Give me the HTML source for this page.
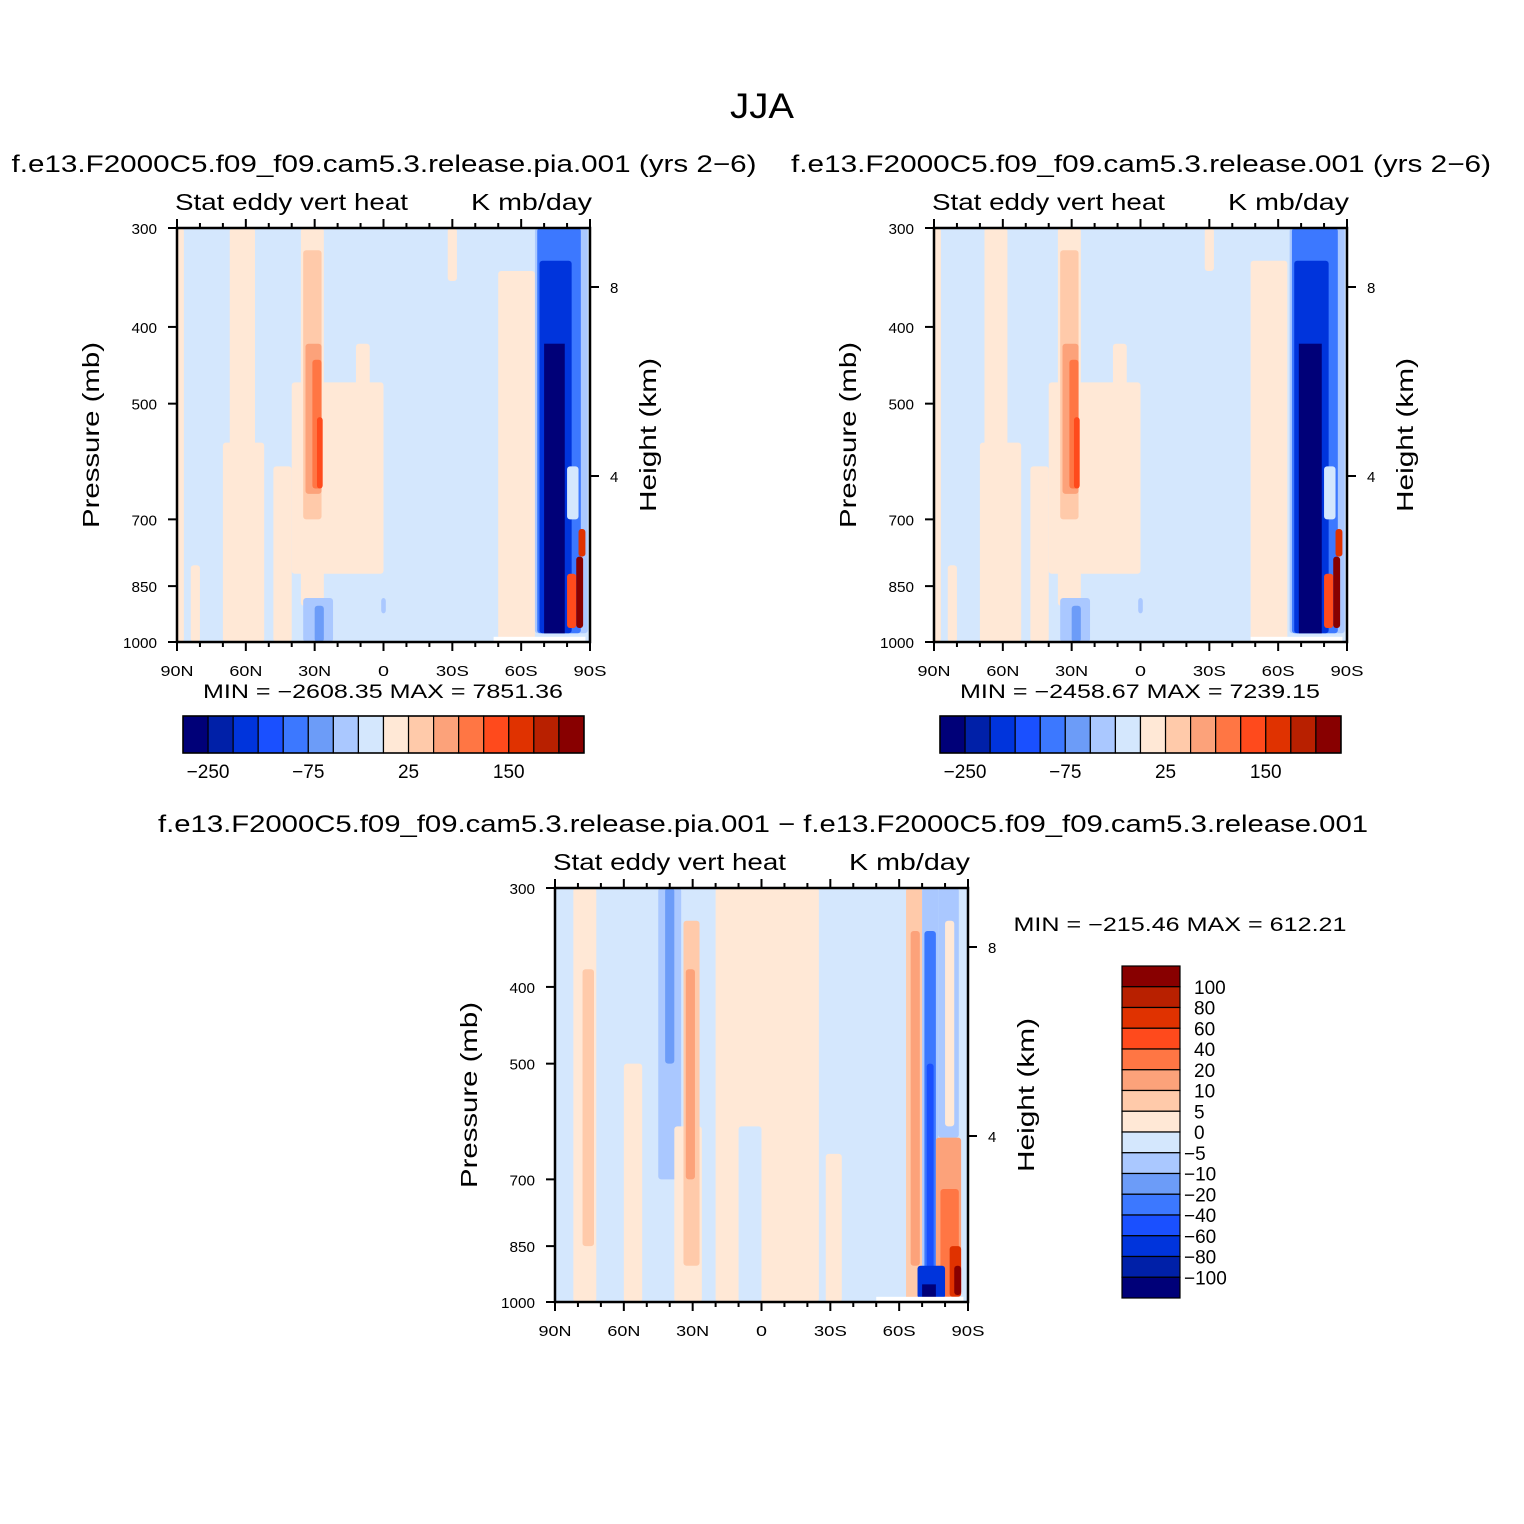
<!DOCTYPE html>
<html><head><meta charset="utf-8"><style>
html,body{margin:0;padding:0;background:#fff;}
svg{display:block;font-family:"Liberation Sans",sans-serif;}
</style></head><body>
<svg id="fig" width="1524" height="1524" viewBox="0 0 1524 1524" xmlns="http://www.w3.org/2000/svg">
<rect width="1524" height="1524" fill="#fff"/>
<text x="762" y="118" font-size="35" text-anchor="middle" textLength="64" lengthAdjust="spacingAndGlyphs">JJA</text>
</svg>
<script>
// ----- data -----
const colors = ["#000078","#0020a8","#0034dc","#1a50ff","#3c78ff","#6c9cf8","#aac8ff","#d4e7fd","#ffe8d6","#ffcaaa","#fca27a","#ff7644","#ff4a1c","#e03200","#b82000","#880000"];
const barLabelsTop = ["-250","-75","25","150"];
const barLabelIdx = [1,5,9,13];
const diffLabels = ["100","80","60","40","20","10","5","0","\u22125","\u221210","\u221220","\u221240","\u221260","\u221280","\u2212100"];
const latTicks = [90,60,30,0,-30,-60,-90];
const latTickLabels = ["90N","60N","30N","0","30S","60S","90S"];
const presTicks = [300,400,500,700,850,1000];
const heightTicks = [8,4];
// shapes: [lat1, lat2, pTop, pBottom, level]  (level -1 = white / missing)
const field1 = [
 [90,-90,300,1000,7],[90,87,300,1000,8],[67,56,300,1000,8],[70,52,560,1000,8],[84,80,800,1000,8],
 [48,40,600,1000,8],[40,0,470,820,8],[36,26,300,900,8],[35,27,320,700,9],[34,27,420,650,10],
 [31,27,440,640,11],[29,26.5,520,640,12],[12,6,420,700,8],[-28,-32,300,350,8],[-50,-66,340,1000,8],
 [35,22,880,1000,6],[30,26,900,1000,5],[1,-1,880,920,6],
 [-66,-89,300,975,6],[-67,-86,300,975,4],[-68,-82,330,975,2],[-70,-79,420,975,0],
 [-80,-85,600,700,7],[-85,-88,720,780,13],[-80,-84,820,960,12],[-84,-87,780,960,15],
 [-48,-88,985,1000,-1]
];
const field2 = [
 [90,-90,300,1000,7],[90,87,300,1000,8],[68,58,300,1000,8],[70,52,560,1000,8],[84,80,800,1000,8],
 [48,40,600,1000,8],[40,0,470,820,8],[36,26,300,900,8],[35,27,320,700,9],[34,27,420,650,10],
 [31,27,440,640,11],[29,26.5,520,640,12],[12,6,420,700,8],[-28,-32,300,340,8],[-48,-64,330,1000,8],
 [35,22,880,1000,6],[30,26,900,1000,5],[1,-1,880,920,6],
 [-65,-89,300,975,6],[-66,-86,300,975,4],[-67,-82,330,975,2],[-69,-79,420,975,0],
 [-80,-85,600,700,7],[-85,-88,720,780,13],[-80,-84,820,960,12],[-84,-87,780,960,15],
 [-48,-88,985,1000,-1]
];
const field3 = [
 [90,-90,300,1000,7],[82,72,300,1000,8],[78,73,380,850,9],[60,52,500,1000,8],
 [45,35,300,700,6],[42,38,300,500,5],[38,26,600,1000,8],[34,27,330,900,9],[33,29,380,700,10],
 [20,-25,300,1000,8],[10,0,600,1000,7],[-28,-35,650,1000,8],
 [-63,-70,300,1000,9],[-65,-69,340,900,10],
 [-70,-77,300,1000,6],[-71,-76,340,1000,4],[-72,-75,500,1000,3],
 [-77,-86,300,620,6],[-80,-84,330,600,8],
 [-76,-87,620,985,10],[-78,-86,720,985,11],[-82,-87,850,985,13],[-84,-87,900,980,15],
 [-68,-80,900,990,2],[-70,-76,950,990,0],
 [-50,-88,985,1000,-1]
];
// ----- drawing -----
const NS="http://www.w3.org/2000/svg";
const svg=document.getElementById('fig');
function mk(tag,attrs,parent){const e=document.createElementNS(NS,tag);for(const k in attrs)e.setAttribute(k,attrs[k]);(parent||svg).appendChild(e);return e;}
function txt(x,y,s,size,anchor,parent,rot,len){const t=mk('text',{x:x,y:y,'font-size':size,'text-anchor':anchor||'middle'},parent);if(rot)t.setAttribute('transform',`rotate(${rot} ${x} ${y})`);if(len){t.setAttribute('textLength',len);t.setAttribute('lengthAdjust','spacingAndGlyphs');}t.textContent=s;return t;}

function panel(x0,y0,field,name){
  const W=413,H=414;
  const xLat=lat=>x0+(90-lat)/180*W;
  const yP=p=>y0+Math.log(p/300)/Math.log(1000/300)*H;
  const yH=h=>y0+437-47.25*h;
  const g=mk('g',{});
  
  
  const clip=mk('clipPath',{id:'c'+name},g);
  mk('rect',{x:x0,y:y0,width:W,height:H},clip);
  const fg=mk('g',{'clip-path':`url(#c${name})`},g);
  field.forEach((s,i)=>{
    const xa=xLat(s[0]),xb=xLat(s[1]),ya=yP(s[2]),yb=yP(s[3]);
    const r=mk('rect',{x:Math.min(xa,xb),y:ya,width:Math.abs(xb-xa),height:yb-ya,fill:s[4]<0?'#fff':colors[s[4]],rx:s[4]>0&&i>0?3:0},fg);
    
    
  });
  mk('rect',{x:x0,y:y0,width:W,height:H,fill:'none',stroke:'#000','stroke-width':2.5},g);
  for(let lat=90;lat>=-90;lat-=10){
    const x=xLat(lat),major=lat%30===0,l=major?9:5;
    mk('line',{x1:x,y1:y0+H,x2:x,y2:y0+H+l,stroke:'#000','stroke-width':2},g);
    mk('line',{x1:x,y1:y0,x2:x,y2:y0-l,stroke:'#000','stroke-width':2},g);
  }
  latTicks.forEach((lat,i)=>{const s=latTickLabels[i];const t=txt(xLat(lat),y0+H+34,s,15,'middle',g,0,s.length*11);});
  presTicks.forEach(p=>{const y=yP(p);mk('line',{x1:x0-9,y1:y,x2:x0,y2:y,stroke:'#000','stroke-width':2},g);const t=txt(x0-20,y+6,String(p),15,'end',g,0,String(p).length*8.5);});
  heightTicks.forEach(h=>{const y=yH(h);mk('line',{x1:x0+W,y1:y,x2:x0+W+9,y2:y,stroke:'#000','stroke-width':2},g);const t=txt(x0+W+20,y+6,String(h),15,'start',g);});
  const a=txt(x0-78,y0+H/2,'Pressure (mb)',23,'middle',g,-90,186);
  const b=txt(x0+W+66,y0+H/2,'Height (km)',23,'middle',g,-90,154);
  const c=txt(x0-2,y0-18,'Stat eddy vert heat',23,'start',g,0,233);
  const d=txt(x0+W+2,y0-18,'K mb/day',23,'end',g,0,121);
}
function hbar(x0,y0){
  const g=mk('g',{});
  
  
  colors.forEach((c,i)=>{const r=mk('rect',{x:x0+i*25.06,y:y0,width:25.06,height:37,fill:c,stroke:'#000','stroke-width':1.2},g);});
  mk('rect',{x:x0,y:y0,width:401,height:37,fill:'none',stroke:'#000','stroke-width':1.5},g);
  barLabelsTop.forEach((s,i)=>{const t=txt(x0+barLabelIdx[i]*25.06,y0+62,s.replace('-','\u2212'),19,'middle',g);});
}
function vbar(x0,y0){
  const g=mk('g',{});
  
  
  const h=332/16;
  colors.slice().reverse().forEach((c,i)=>{const r=mk('rect',{x:x0,y:y0+i*h,width:58,height:h,fill:c,stroke:'#000','stroke-width':1.2},g);});
  diffLabels.forEach((s,i)=>{const t=txt(x0+(s.startsWith('\u2212')?62:72),y0+(i+1)*h+7,s,19,'start',g);});
}
function label(x,y,s,size,anchor,name,len){const t=txt(x,y,s,size,anchor,null,0,len);}

label(384,172,'f.e13.F2000C5.f09_f09.cam5.3.release.pia.001 (yrs 2\u22126)',24,'middle','case-title-1',745);
label(1141,172,'f.e13.F2000C5.f09_f09.cam5.3.release.001 (yrs 2\u22126)',24,'middle','case-title-2',700);
label(763,832,'f.e13.F2000C5.f09_f09.cam5.3.release.pia.001 \u2212 f.e13.F2000C5.f09_f09.cam5.3.release.001',24,'middle','diff-title',1210);
panel(177,228,field1,'panel-pia');
panel(934,228,field2,'panel-control');
panel(555,888,field3,'panel-diff');
label(383,698,'MIN = \u22122608.35   MAX = 7851.36',19,'middle','minmax-1',360);
label(1140,698,'MIN = \u22122458.67   MAX = 7239.15',19,'middle','minmax-2',360);
label(1180,931,'MIN = \u2212215.46   MAX = 612.21',19,'middle','minmax-diff',333);
hbar(183,716);
hbar(940,716);
vbar(1122,966);
</script>
</body></html>
